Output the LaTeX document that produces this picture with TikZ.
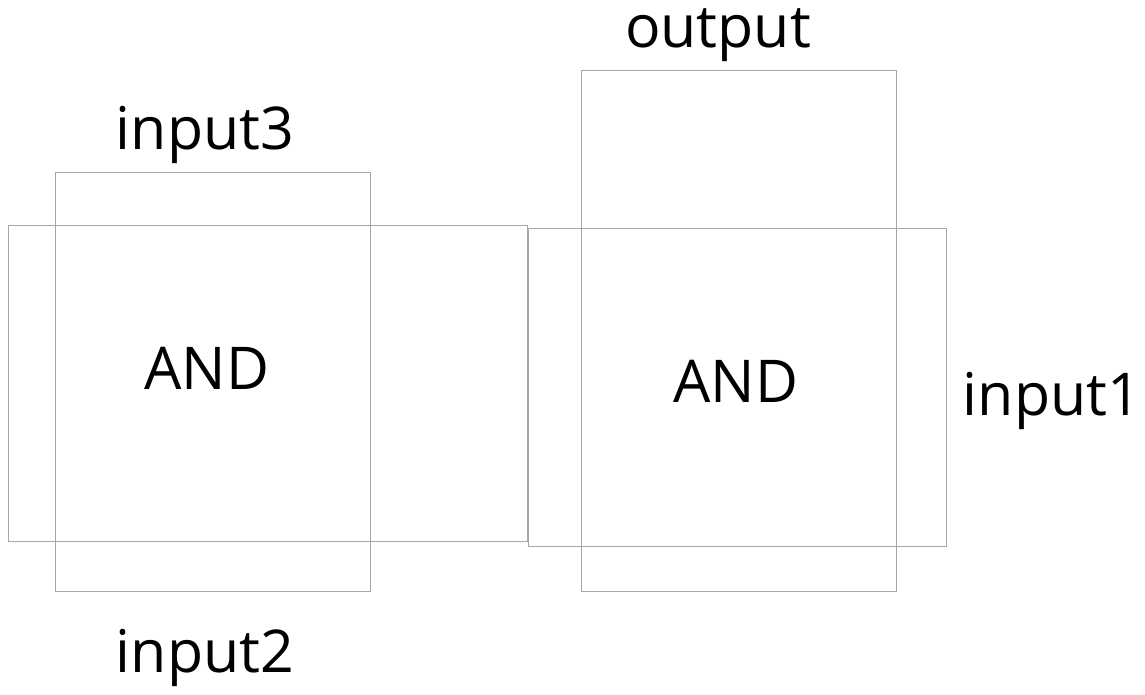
\documentclass[tikz,border=0pt]{standalone}
\usepackage{fontspec}
\setmainfont{Open Sans}
\begin{document}
\begin{tikzpicture}[x=1pt,y=-1pt,
  box/.style={draw=black!35, line width=1pt, inner sep=0pt, outer sep=0pt},
  lbl/.style={font=\fontsize{59}{62}\selectfont, anchor=base, inner sep=0pt}]
\useasboundingbox (0,0) rectangle (1145,694);
% left gate
\draw[box] (55,172) rectangle (370,591);
\draw[box] (8,225) rectangle (527,541);
% right gate
\draw[box] (581,70) rectangle (896,591);
\draw[box] (528,228) rectangle (946,546);
\node[lbl] (andl) at (207,389) {AND};
\node[lbl] (andr) at (736,402) {AND};
\node[lbl] (in3) at (205,149) {input3};
\node[lbl] (in2) at (205,672) {input2};
\node[lbl] (in1) at (1052,415) {input1};
\node[lbl] (out) at (718,47) {output};
\end{tikzpicture}
\end{document}
